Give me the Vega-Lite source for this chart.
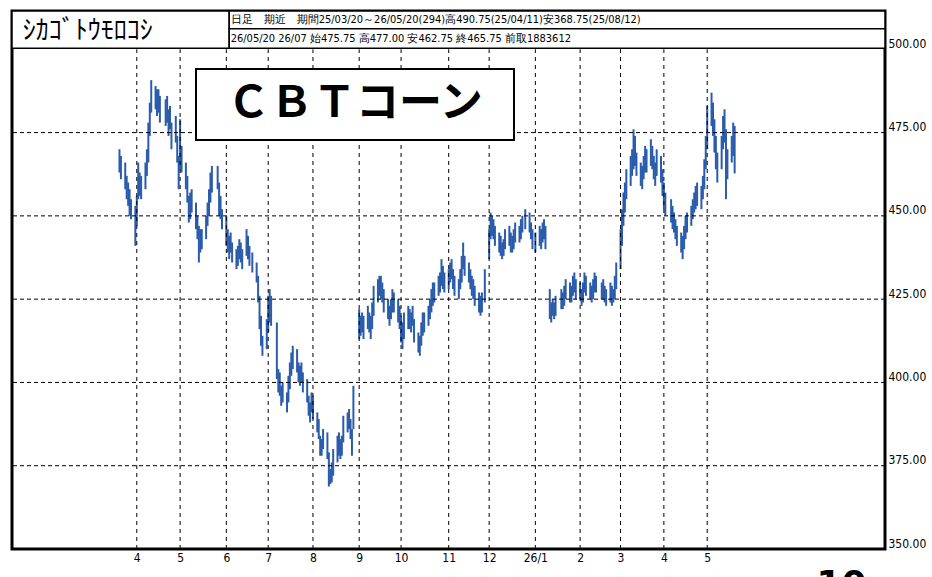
{
  "$schema": "https://vega.github.io/schema/vega-lite/v6.json",
  "width": 873,
  "height": 538,
  "autosize": {"type": "none"},
  "padding": {"left": 12, "top": 11, "right": 47, "bottom": 28},
  "background": "white",
  "config": {
    "view": {"stroke": "black", "strokeWidth": 3},
    "axis": {"labelFont": "DejaVu Sans Condensed", "labelFontSize": 12, "labelColor": "#000000"}
  },
  "datasets": {
    "price": [
      {"d":"2025-03-20","h":470,"l":463},{"d":"2025-03-21","h":468,"l":461},{"d":"2025-03-24","h":466,"l":458},{"d":"2025-03-25","h":462,"l":455},{"d":"2025-03-26","h":460,"l":453},{"d":"2025-03-27","h":458,"l":450},{"d":"2025-03-28","h":455,"l":449},{"d":"2025-03-31","h":453,"l":441},
      {"d":"2025-04-01","h":456,"l":447},{"d":"2025-04-02","h":466,"l":455},{"d":"2025-04-03","h":463,"l":456},{"d":"2025-04-04","h":462,"l":455},{"d":"2025-04-07","h":466,"l":458},{"d":"2025-04-08","h":470,"l":462},{"d":"2025-04-09","h":478,"l":466},{"d":"2025-04-10","h":484,"l":474},{"d":"2025-04-11","h":490.75,"l":481},{"d":"2025-04-14","h":489,"l":482},{"d":"2025-04-15","h":488,"l":480},{"d":"2025-04-16","h":488,"l":481},{"d":"2025-04-17","h":486,"l":478},{"d":"2025-04-21","h":485,"l":477},{"d":"2025-04-22","h":486,"l":478},{"d":"2025-04-23","h":482,"l":474},{"d":"2025-04-24","h":483,"l":476},{"d":"2025-04-25","h":478,"l":470},{"d":"2025-04-28","h":480,"l":472},{"d":"2025-04-29","h":474,"l":466},{"d":"2025-04-30","h":468,"l":458},
      {"d":"2025-05-01","h":479,"l":464},{"d":"2025-05-02","h":471,"l":463},{"d":"2025-05-05","h":466,"l":458},{"d":"2025-05-06","h":462,"l":454},{"d":"2025-05-07","h":456,"l":448},{"d":"2025-05-08","h":457,"l":449},{"d":"2025-05-09","h":458,"l":451},{"d":"2025-05-12","h":454,"l":446},{"d":"2025-05-13","h":450,"l":443},{"d":"2025-05-14","h":447,"l":436},{"d":"2025-05-15","h":446,"l":439},{"d":"2025-05-16","h":446,"l":440},{"d":"2025-05-19","h":450,"l":443},{"d":"2025-05-20","h":454,"l":447},{"d":"2025-05-21","h":458,"l":450},{"d":"2025-05-22","h":463,"l":454},{"d":"2025-05-23","h":465,"l":457},{"d":"2025-05-27","h":465,"l":458},{"d":"2025-05-28","h":460,"l":450},{"d":"2025-05-29","h":456,"l":449},{"d":"2025-05-30","h":452,"l":446},
      {"d":"2025-06-02","h":450,"l":441},{"d":"2025-06-03","h":446,"l":439},{"d":"2025-06-04","h":444,"l":437},{"d":"2025-06-05","h":445,"l":439},{"d":"2025-06-06","h":442,"l":436},{"d":"2025-06-09","h":440,"l":434},{"d":"2025-06-10","h":441,"l":435},{"d":"2025-06-11","h":443,"l":437},{"d":"2025-06-12","h":442,"l":436},{"d":"2025-06-13","h":440,"l":434},{"d":"2025-06-16","h":446,"l":438},{"d":"2025-06-17","h":444,"l":437},{"d":"2025-06-18","h":441,"l":435},{"d":"2025-06-20","h":439,"l":433},{"d":"2025-06-23","h":436,"l":430},{"d":"2025-06-24","h":432,"l":424},{"d":"2025-06-25","h":426,"l":416},{"d":"2025-06-26","h":420,"l":411},{"d":"2025-06-27","h":414,"l":408},{"d":"2025-06-30","h":419,"l":410},
      {"d":"2025-07-01","h":426,"l":415},{"d":"2025-07-02","h":428,"l":418},{"d":"2025-07-03","h":426,"l":417},{"d":"2025-07-07","h":418,"l":401},{"d":"2025-07-08","h":404,"l":397},{"d":"2025-07-09","h":403,"l":396},{"d":"2025-07-10","h":399,"l":393},{"d":"2025-07-11","h":400,"l":394},{"d":"2025-07-14","h":397,"l":391},{"d":"2025-07-15","h":402,"l":394},{"d":"2025-07-16","h":406,"l":398},{"d":"2025-07-17","h":409,"l":402},{"d":"2025-07-18","h":411,"l":404},{"d":"2025-07-21","h":410,"l":403},{"d":"2025-07-22","h":406,"l":400},{"d":"2025-07-23","h":405,"l":399},{"d":"2025-07-24","h":406,"l":400},{"d":"2025-07-25","h":403,"l":397},{"d":"2025-07-28","h":401,"l":394},{"d":"2025-07-29","h":396,"l":390},{"d":"2025-07-30","h":394,"l":388},{"d":"2025-07-31","h":397,"l":391},
      {"d":"2025-08-01","h":396,"l":389},{"d":"2025-08-04","h":391,"l":385},{"d":"2025-08-05","h":389,"l":383},{"d":"2025-08-06","h":384,"l":378},{"d":"2025-08-07","h":383,"l":378},{"d":"2025-08-08","h":386,"l":380},{"d":"2025-08-11","h":385,"l":377},{"d":"2025-08-12","h":379,"l":368.75},{"d":"2025-08-13","h":374,"l":369.5},{"d":"2025-08-14","h":376,"l":370},{"d":"2025-08-15","h":380,"l":372},{"d":"2025-08-18","h":384,"l":376},{"d":"2025-08-19","h":385,"l":378},{"d":"2025-08-20","h":383,"l":377},{"d":"2025-08-21","h":384,"l":378},{"d":"2025-08-22","h":390,"l":382},{"d":"2025-08-25","h":391,"l":385},{"d":"2025-08-26","h":392,"l":386},{"d":"2025-08-27","h":389,"l":383},{"d":"2025-08-28","h":386,"l":378},{"d":"2025-08-29","h":399,"l":386},
      {"d":"2025-09-02","h":422,"l":413},{"d":"2025-09-03","h":420,"l":414},{"d":"2025-09-04","h":421,"l":415},{"d":"2025-09-05","h":420,"l":413},{"d":"2025-09-08","h":423,"l":416},{"d":"2025-09-09","h":421,"l":415},{"d":"2025-09-10","h":420,"l":413},{"d":"2025-09-11","h":424,"l":416},{"d":"2025-09-12","h":429,"l":420},{"d":"2025-09-15","h":431,"l":424},{"d":"2025-09-16","h":432,"l":426},{"d":"2025-09-17","h":432,"l":425},{"d":"2025-09-18","h":430,"l":424},{"d":"2025-09-19","h":428,"l":421},{"d":"2025-09-22","h":425,"l":419},{"d":"2025-09-23","h":423,"l":417},{"d":"2025-09-24","h":425,"l":419},{"d":"2025-09-25","h":428,"l":421},{"d":"2025-09-26","h":427,"l":421},{"d":"2025-09-29","h":425,"l":418},{"d":"2025-09-30","h":423,"l":416},
      {"d":"2025-10-01","h":420,"l":412},{"d":"2025-10-02","h":418,"l":410},{"d":"2025-10-03","h":421,"l":413},{"d":"2025-10-06","h":423,"l":416},{"d":"2025-10-07","h":422,"l":416},{"d":"2025-10-08","h":421,"l":415},{"d":"2025-10-09","h":423,"l":417},{"d":"2025-10-10","h":419,"l":412},{"d":"2025-10-13","h":415,"l":409},{"d":"2025-10-14","h":414,"l":408},{"d":"2025-10-15","h":418,"l":411},{"d":"2025-10-16","h":421,"l":414},{"d":"2025-10-17","h":421,"l":415},{"d":"2025-10-20","h":423,"l":417},{"d":"2025-10-21","h":425,"l":419},{"d":"2025-10-22","h":428,"l":421},{"d":"2025-10-23","h":430,"l":423},{"d":"2025-10-24","h":430,"l":424},{"d":"2025-10-27","h":432,"l":426},{"d":"2025-10-28","h":433,"l":427},{"d":"2025-10-29","h":437,"l":429},{"d":"2025-10-30","h":435,"l":428},{"d":"2025-10-31","h":433,"l":427},
      {"d":"2025-11-03","h":434,"l":428},{"d":"2025-11-04","h":436,"l":430},{"d":"2025-11-05","h":437,"l":431},{"d":"2025-11-06","h":434,"l":428},{"d":"2025-11-07","h":432,"l":426},{"d":"2025-11-10","h":431,"l":425},{"d":"2025-11-11","h":434,"l":428},{"d":"2025-11-12","h":438,"l":430},{"d":"2025-11-13","h":442,"l":434},{"d":"2025-11-14","h":438,"l":432},{"d":"2025-11-17","h":436,"l":430},{"d":"2025-11-18","h":434,"l":428},{"d":"2025-11-19","h":432,"l":426},{"d":"2025-11-20","h":431,"l":425},{"d":"2025-11-21","h":429,"l":423},{"d":"2025-11-24","h":427,"l":421},{"d":"2025-11-25","h":426,"l":420},{"d":"2025-11-26","h":427,"l":421},{"d":"2025-11-28","h":434,"l":424},
      {"d":"2025-12-01","h":446,"l":437},{"d":"2025-12-02","h":451,"l":443},{"d":"2025-12-03","h":450,"l":444},{"d":"2025-12-04","h":449,"l":443},{"d":"2025-12-05","h":447,"l":441},{"d":"2025-12-08","h":445,"l":439},{"d":"2025-12-09","h":444,"l":438},{"d":"2025-12-10","h":442,"l":437},{"d":"2025-12-11","h":443,"l":438},{"d":"2025-12-12","h":446,"l":440},{"d":"2025-12-15","h":447,"l":441},{"d":"2025-12-16","h":445,"l":439},{"d":"2025-12-17","h":444,"l":439},{"d":"2025-12-18","h":446,"l":440},{"d":"2025-12-19","h":448,"l":442},{"d":"2025-12-22","h":447,"l":442},{"d":"2025-12-23","h":449,"l":443},{"d":"2025-12-24","h":450,"l":445},{"d":"2025-12-26","h":452,"l":446},{"d":"2025-12-29","h":451,"l":445},{"d":"2025-12-30","h":448,"l":443},{"d":"2025-12-31","h":446,"l":440},
      {"d":"2026-01-02","h":445,"l":439},{"d":"2026-01-05","h":447,"l":441},{"d":"2026-01-06","h":446,"l":440},{"d":"2026-01-07","h":448,"l":442},{"d":"2026-01-08","h":449,"l":443},{"d":"2026-01-09","h":447,"l":440},{"d":"2026-01-12","h":428,"l":419},{"d":"2026-01-13","h":424,"l":418},{"d":"2026-01-14","h":425,"l":420},{"d":"2026-01-15","h":424,"l":419},{"d":"2026-01-16","h":426,"l":420},{"d":"2026-01-20","h":428,"l":422},{"d":"2026-01-21","h":427,"l":422},{"d":"2026-01-22","h":429,"l":423},{"d":"2026-01-23","h":431,"l":425},{"d":"2026-01-26","h":430,"l":424},{"d":"2026-01-27","h":429,"l":424},{"d":"2026-01-28","h":432,"l":426},{"d":"2026-01-29","h":433,"l":427},{"d":"2026-01-30","h":431,"l":425},
      {"d":"2026-02-02","h":430,"l":425},{"d":"2026-02-03","h":428,"l":423},{"d":"2026-02-04","h":430,"l":424},{"d":"2026-02-05","h":433,"l":427},{"d":"2026-02-06","h":432,"l":426},{"d":"2026-02-09","h":430,"l":425},{"d":"2026-02-10","h":429,"l":424},{"d":"2026-02-11","h":431,"l":425},{"d":"2026-02-12","h":433,"l":427},{"d":"2026-02-13","h":432,"l":427},{"d":"2026-02-17","h":430,"l":425},{"d":"2026-02-18","h":431,"l":425},{"d":"2026-02-19","h":429,"l":424},{"d":"2026-02-20","h":428,"l":423},{"d":"2026-02-23","h":430,"l":424},{"d":"2026-02-24","h":429,"l":423},{"d":"2026-02-25","h":428,"l":424},{"d":"2026-02-26","h":432,"l":425},{"d":"2026-02-27","h":436,"l":428},
      {"d":"2026-03-02","h":446,"l":434},{"d":"2026-03-03","h":452,"l":441},{"d":"2026-03-04","h":457,"l":447},{"d":"2026-03-05","h":460,"l":451},{"d":"2026-03-06","h":464,"l":455},{"d":"2026-03-09","h":468,"l":459},{"d":"2026-03-10","h":470,"l":462},{"d":"2026-03-11","h":476,"l":464},{"d":"2026-03-12","h":474,"l":465},{"d":"2026-03-13","h":469,"l":462},{"d":"2026-03-16","h":466,"l":459},{"d":"2026-03-17","h":465,"l":458},{"d":"2026-03-18","h":468,"l":461},{"d":"2026-03-19","h":471,"l":463},{"d":"2026-03-20","h":470,"l":463},{"d":"2026-03-23","h":473,"l":465},{"d":"2026-03-24","h":471,"l":464},{"d":"2026-03-25","h":468,"l":461},{"d":"2026-03-26","h":466,"l":459},{"d":"2026-03-27","h":470,"l":462},{"d":"2026-03-30","h":468,"l":460},{"d":"2026-03-31","h":464,"l":456},
      {"d":"2026-04-01","h":460,"l":452},{"d":"2026-04-02","h":457,"l":450},{"d":"2026-04-06","h":455,"l":448},{"d":"2026-04-07","h":453,"l":446},{"d":"2026-04-08","h":451,"l":445},{"d":"2026-04-09","h":449,"l":443},{"d":"2026-04-10","h":447,"l":441},{"d":"2026-04-13","h":445,"l":439},{"d":"2026-04-14","h":444,"l":437},{"d":"2026-04-15","h":447,"l":440},{"d":"2026-04-16","h":450,"l":443},{"d":"2026-04-17","h":451,"l":445},{"d":"2026-04-20","h":453,"l":447},{"d":"2026-04-21","h":455,"l":449},{"d":"2026-04-22","h":457,"l":451},{"d":"2026-04-23","h":459,"l":452},{"d":"2026-04-24","h":460,"l":453},{"d":"2026-04-27","h":459,"l":452},{"d":"2026-04-28","h":462,"l":455},{"d":"2026-04-29","h":467,"l":458},{"d":"2026-04-30","h":474,"l":464},
      {"d":"2026-05-01","h":483,"l":470},{"d":"2026-05-04","h":487,"l":477},{"d":"2026-05-05","h":484,"l":474},{"d":"2026-05-06","h":479,"l":469},{"d":"2026-05-07","h":474,"l":464},{"d":"2026-05-08","h":469,"l":460},{"d":"2026-05-11","h":474,"l":464},{"d":"2026-05-12","h":480,"l":470},{"d":"2026-05-13","h":482,"l":472},{"d":"2026-05-14","h":476,"l":455},{"d":"2026-05-15","h":470,"l":461},{"d":"2026-05-18","h":474,"l":466},{"d":"2026-05-19","h":478,"l":468},{"d":"2026-05-20","h":477,"l":462.75}
    ],
    "months": [
      {"m":"2025-04-01"},{"m":"2025-05-01"},{"m":"2025-06-02"},{"m":"2025-07-01"},{"m":"2025-08-01"},{"m":"2025-09-02"},{"m":"2025-10-01"},{"m":"2025-11-03"},{"m":"2025-12-01"},{"m":"2026-01-02"},{"m":"2026-02-02"},{"m":"2026-03-02"},{"m":"2026-04-01"},{"m":"2026-05-01"}
    ],
    "levels": [{"v":375},{"v":400},{"v":425},{"v":450},{"v":475}]
  },
  "layer": [
    {
      "data": {"name": "price"},
      "mark": {"type": "rule", "color": "#2b5cab", "strokeWidth": 2},
      "encoding": {
        "x": {"field": "d", "type": "temporal",
          "scale": {"type": "utc", "domain": [{"year":2025,"month":1,"date":4,"hours":14,"utc":true},{"year":2026,"month":9,"date":1,"hours":3,"utc":true}]},
          "axis": {"values": [
            {"year":2025,"month":4,"date":1,"utc":true},{"year":2025,"month":5,"date":1,"utc":true},{"year":2025,"month":6,"date":2,"utc":true},{"year":2025,"month":7,"date":1,"utc":true},{"year":2025,"month":8,"date":1,"utc":true},{"year":2025,"month":9,"date":2,"utc":true},{"year":2025,"month":10,"date":1,"utc":true},{"year":2025,"month":11,"date":3,"utc":true},{"year":2025,"month":12,"date":1,"utc":true},{"year":2026,"month":1,"date":2,"utc":true},{"year":2026,"month":2,"date":2,"utc":true},{"year":2026,"month":3,"date":2,"utc":true},{"year":2026,"month":4,"date":1,"utc":true},{"year":2026,"month":5,"date":1,"utc":true}],
            "labelExpr": "utcmonth(datum.value) == 0 ? '26/1' : '' + (utcmonth(datum.value) + 1)",
            "title": null, "grid": false, "ticks": false, "domain": false, "labelPadding": 3, "labelBaseline": "top", "labelFlush": false, "labelOverlap": false}
        },
        "y": {"field": "l", "type": "quantitative",
          "scale": {"domain": [350, 511.5], "nice": false, "zero": false},
          "axis": {"orient": "right", "values": [350,375,400,425,450,475,500], "format": ".2f", "title": null, "grid": false, "ticks": false, "domain": false, "labelPadding": 3, "labelBaseline": "alphabetic", "labelOffset": -2, "labelFlush": false, "labelOverlap": false}
        },
        "y2": {"field": "h"}
      }
    },
    {
      "data": {"name": "months"},
      "mark": {"type": "rule", "color": "#000000", "strokeWidth": 1, "strokeDash": [4, 4]},
      "encoding": {
        "x": {"field": "m", "type": "temporal", "scale": {"type": "utc", "domain": [{"year":2025,"month":1,"date":4,"hours":14,"utc":true},{"year":2026,"month":9,"date":1,"hours":3,"utc":true}]}},
        "y": {"datum": 350, "type": "quantitative", "scale": {"domain": [350, 511.5], "nice": false, "zero": false}},
        "y2": {"datum": 500}
      }
    },
    {
      "data": {"name": "levels"},
      "mark": {"type": "rule", "color": "#000000", "strokeWidth": 1, "strokeDash": [4, 3]},
      "encoding": {
        "y": {"field": "v", "type": "quantitative", "scale": {"domain": [350, 511.5], "nice": false, "zero": false}}
      }
    },
    {
      "data": {"values": [{}]},
      "mark": {"type": "rect", "fill": "white", "stroke": "black", "strokeWidth": 2},
      "encoding": {
        "x": {"datum": {"year":2025,"month":5,"date":12,"utc":true}, "type": "temporal", "scale": {"type": "utc", "domain": [{"year":2025,"month":1,"date":4,"hours":14,"utc":true},{"year":2026,"month":9,"date":1,"hours":3,"utc":true}]}},
        "x2": {"datum": {"year":2025,"month":12,"date":18,"hours":5,"utc":true}},
        "y": {"datum": 472.8, "type": "quantitative", "scale": {"domain": [350, 511.5], "nice": false, "zero": false}},
        "y2": {"datum": 494.1}
      }
    },
    {
      "data": {"values": [{}]},
      "mark": {"type": "text", "text": "ＣＢＴコーン", "font": "Noto Sans CJK JP", "fontSize": 43, "fontWeight": "bold", "color": "black", "align": "center", "baseline": "middle"},
      "encoding": {
        "x": {"datum": {"year":2025,"month":8,"date":30,"utc":true}, "type": "temporal", "scale": {"type": "utc", "domain": [{"year":2025,"month":1,"date":4,"hours":14,"utc":true},{"year":2026,"month":9,"date":1,"hours":3,"utc":true}]}},
        "y": {"datum": 483.5, "type": "quantitative", "scale": {"domain": [350, 511.5], "nice": false, "zero": false}}
      }
    },
    {
      "data": {"values": [{}]},
      "mark": {"type": "rect", "fill": "white", "stroke": "black", "strokeWidth": 1.5},
      "encoding": {
        "x": {"datum": {"year":2025,"month":1,"date":4,"hours":14,"utc":true}, "type": "temporal", "scale": {"type": "utc", "domain": [{"year":2025,"month":1,"date":4,"hours":14,"utc":true},{"year":2026,"month":9,"date":1,"hours":3,"utc":true}]}},
        "x2": {"datum": {"year":2025,"month":6,"date":4,"utc":true}},
        "y": {"datum": 500.3, "type": "quantitative", "scale": {"domain": [350, 511.5], "nice": false, "zero": false}},
        "y2": {"datum": 511.5}
      }
    },
    {
      "data": {"values": [{"y1": 506.2, "y2": 511.5}, {"y1": 500.3, "y2": 506.2}]},
      "mark": {"type": "rect", "fill": "white", "stroke": "black", "strokeWidth": 1.5},
      "encoding": {
        "x": {"datum": {"year":2025,"month":6,"date":4,"utc":true}, "type": "temporal", "scale": {"type": "utc", "domain": [{"year":2025,"month":1,"date":4,"hours":14,"utc":true},{"year":2026,"month":9,"date":1,"hours":3,"utc":true}]}},
        "x2": {"datum": {"year":2026,"month":9,"date":1,"hours":3,"utc":true}},
        "y": {"field": "y1", "type": "quantitative", "scale": {"domain": [350, 511.5], "nice": false, "zero": false}},
        "y2": {"field": "y2"}
      }
    },
    {
      "data": {"values": [{}]},
      "mark": {"type": "text", "text": "ｼｶｺﾞﾄｳﾓﾛｺｼ", "font": "Noto Sans CJK JP", "fontSize": 26, "color": "black", "align": "left", "baseline": "middle"},
      "encoding": {
        "x": {"datum": {"year":2025,"month":1,"date":12,"utc":true}, "type": "temporal", "scale": {"type": "utc", "domain": [{"year":2025,"month":1,"date":4,"hours":14,"utc":true},{"year":2026,"month":9,"date":1,"hours":3,"utc":true}]}},
        "y": {"datum": 505.6, "type": "quantitative", "scale": {"domain": [350, 511.5], "nice": false, "zero": false}}
      }
    },
    {
      "data": {"values": [
        {"t": "日足　期近　期間25/03/20～26/05/20(294)高490.75(25/04/11)安368.75(25/08/12)", "v": 508.8},
        {"t": "26/05/20 26/07 始475.75 高477.00 安462.75 終465.75 前取1883612", "v": 503.0}
      ]},
      "mark": {"type": "text", "font": "DejaVu Sans Condensed", "fontSize": 11, "color": "black", "align": "left", "baseline": "middle"},
      "encoding": {
        "text": {"field": "t"},
        "x": {"datum": {"year":2025,"month":6,"date":5,"utc":true}, "type": "temporal", "scale": {"type": "utc", "domain": [{"year":2025,"month":1,"date":4,"hours":14,"utc":true},{"year":2026,"month":9,"date":1,"hours":3,"utc":true}]}},
        "y": {"field": "v", "type": "quantitative", "scale": {"domain": [350, 511.5], "nice": false, "zero": false}}
      }
    },
    {
      "data": {"values": [{}]},
      "mark": {"type": "text", "text": "10", "font": "DejaVu Sans", "fontSize": 36, "fontWeight": "bold", "color": "black", "align": "center", "baseline": "top"},
      "encoding": {
        "x": {"datum": {"year":2026,"month":8,"date":2,"utc":true}, "type": "temporal", "scale": {"type": "utc", "domain": [{"year":2025,"month":1,"date":4,"hours":14,"utc":true},{"year":2026,"month":9,"date":1,"hours":3,"utc":true}]}},
        "y": {"datum": 344.2, "type": "quantitative", "scale": {"domain": [350, 511.5], "nice": false, "zero": false}}
      }
    }
  ]
}
